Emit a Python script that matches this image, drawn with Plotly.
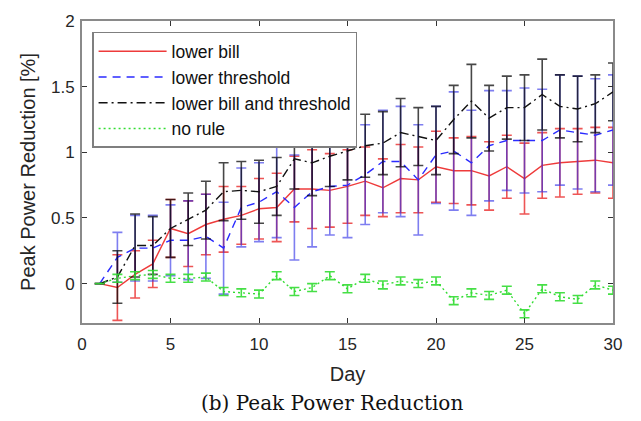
import plotly.graph_objects as go

days = list(range(1, 31))

lower_bill = [0, -0.03, 0.07, 0.15, 0.42, 0.38, 0.45, 0.49, 0.52, 0.57, 0.58, 0.72, 0.72, 0.71, 0.74,
              0.78, 0.73, 0.80, 0.79, 0.89, 0.86, 0.86, 0.82, 0.89, 0.80, 0.90, 0.92, 0.93, 0.94, 0.92]
lower_bill_err = [0, 0.25, 0.18, 0.18, 0.22, 0.25, 0.23, 0.25, 0.22, 0.23, 0.26, 0.25, 0.30, 0.28, 0.28,
                  0.26, 0.22, 0.26, 0.25, 0.27, 0.25, 0.26, 0.26, 0.24, 0.27, 0.25, 0.26, 0.25, 0.25, 0.27]

lower_threshold = [0, 0.20, 0.27, 0.27, 0.33, 0.33, 0.36, 0.27, 0.58, 0.62, 0.70, 0.58, 0.70, 0.74, 0.75,
                   0.83, 0.93, 0.93, 0.79, 0.98, 1.01, 0.92, 1.05, 1.09, 1.09, 1.09, 1.17, 1.15, 1.13, 1.17]
lower_threshold_err = [0, 0.19, 0.25, 0.25, 0.27, 0.30, 0.32, 0.35, 0.30, 0.30, 0.35, 0.40, 0.42, 0.37, 0.40,
                       0.38, 0.39, 0.42, 0.42, 0.37, 0.45, 0.40, 0.42, 0.38, 0.40, 0.39, 0.42, 0.43, 0.43, 0.42]

both = [0, 0.05, 0.29, 0.29, 0.42, 0.49, 0.56, 0.70, 0.71, 0.70, 0.74, 0.95, 0.92, 0.97, 1.01,
        1.05, 1.07, 1.15, 1.12, 1.09, 1.25, 1.39, 1.26, 1.34, 1.34, 1.44, 1.35, 1.33, 1.37, 1.46]
both_err = [0, 0.20, 0.24, 0.22, 0.22, 0.20, 0.22, 0.22, 0.22, 0.24, 0.22, 0.23, 0.25, 0.23, 0.22,
            0.24, 0.24, 0.26, 0.22, 0.26, 0.26, 0.28, 0.25, 0.24, 0.25, 0.27, 0.24, 0.25, 0.22, 0.22]

no_rule = [0, 0.04, 0.06, 0.07, 0.04, 0.04, 0.05, -0.06, -0.07, -0.08, 0.06, -0.06, -0.03, 0.06, -0.04,
           0.04, -0.01, 0.02, 0.00, 0.02, -0.13, -0.07, -0.09, -0.05, -0.23, -0.04, -0.10, -0.12, -0.01, -0.05]
no_rule_err = [0, 0.03, 0.03, 0.03, 0.03, 0.03, 0.03, 0.03, 0.03, 0.03, 0.03, 0.03, 0.03, 0.03, 0.03,
               0.03, 0.03, 0.03, 0.03, 0.03, 0.03, 0.03, 0.03, 0.03, 0.03, 0.03, 0.03, 0.03, 0.03, 0.03]

x_ticks = [0, 5, 10, 15, 20, 25, 30]
y_ticks = [0, 0.5, 1, 1.5, 2]
y_tick_labels = ["0", "0.5", "1", "1.5", "2"]

series = [
    ("lower bill", lower_bill, lower_bill_err, "#ee3b3b", "rgba(235,55,55,0.85)", "solid"),
    ("lower threshold", lower_threshold, lower_threshold_err, "#2b2bff", "rgba(40,40,230,0.6)", "8px,6px"),
    ("lower bill and threshold", both, both_err, "#111111", "rgba(0,0,0,0.72)", "9px,4px,2px,4px"),
    ("no rule", no_rule, no_rule_err, "#33dd33", "rgba(50,220,50,0.9)", "2px,3px"),
]

fig = go.Figure()
for name, y, e, col, ecol, dash in series:
    fig.add_trace(go.Scatter(
        x=days, y=y, mode="lines", name=name,
        line=dict(color=col, dash=dash, width=1.4),
        error_y=dict(type="data", array=e, visible=True, color=ecol, thickness=1.6, width=5),
    ))

font_main = "Liberation Sans, Arial, sans-serif"
axis_common = dict(
    showline=True, linecolor="#8a8a8a", linewidth=2, mirror="ticks",
    ticks="inside", ticklen=5, tickcolor="#333333", tickwidth=1,
    showgrid=False, zeroline=False,
    tickfont=dict(family=font_main, size=17, color="#262626"),
)

fig.update_layout(
    width=641, height=421,
    margin=dict(l=82, r=28, t=17, b=98),
    paper_bgcolor="white", plot_bgcolor="white",
    showlegend=True,
    legend=dict(
        x=0.019, y=0.964, xanchor="left", yanchor="top",
        bgcolor="white", bordercolor="#7f7f7f", borderwidth=1.5,
        font=dict(family=font_main, size=17.5, color="#111111"),
        itemwidth=68, tracegroupgap=0,
    ),
    xaxis=dict(range=[0, 30], tickvals=x_ticks, ticklabelstandoff=5,
               title=dict(text="Day", font=dict(family=font_main, size=20, color="#262626"), standoff=14),
               **axis_common),
    yaxis=dict(range=[-0.3, 2], tickvals=y_ticks, ticktext=y_tick_labels, ticklabelstandoff=2,
               title=dict(text="Peak Power Reduction [%]", font=dict(family=font_main, size=20, color="#262626"), standoff=10),
               **axis_common),
    annotations=[dict(
        text="(b) Peak Power Reduction", xref="paper", yref="paper",
        x=0.47, y=-0.265, xanchor="center", yanchor="middle", showarrow=False,
        font=dict(family="DejaVu Serif, serif", size=20, color="#111111"),
    )],
)

fig.write_html("out.html")
